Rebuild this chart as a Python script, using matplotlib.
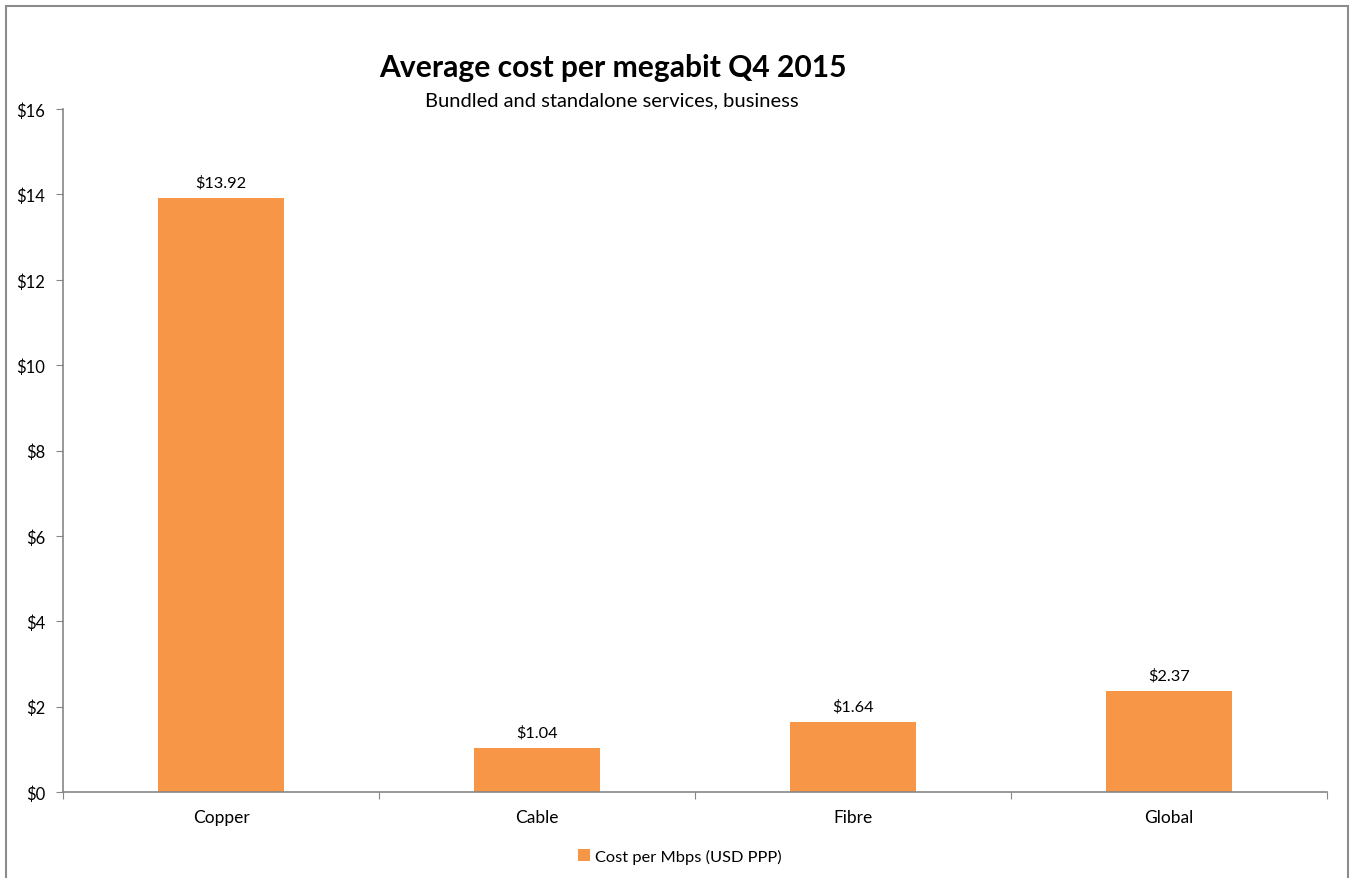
import matplotlib.pyplot as plt
from matplotlib.patches import Rectangle

plt.rcParams['font.family'] = ['Lato', 'DejaVu Sans']

categories = ['Copper', 'Cable', 'Fibre', 'Global']
cost_per_mbps = [13.92, 1.04, 1.64, 2.37]
series_name = 'Cost per Mbps (USD PPP)'
y_ticks = [0, 2, 4, 6, 8, 10, 12, 14, 16]

bar_color = '#F79646'
axis_color = '#868686'

W, H = 1354, 879
fig = plt.figure(figsize=(W / 100, H / 100), dpi=100)

# chart area frame
fig.patches.append(Rectangle((6 / W, -0.1), 1342 / W, 1.1 - 7 / H,
                             transform=fig.transFigure, fill=False,
                             edgecolor='#8C8C8C', linewidth=1.5))

ax = fig.add_axes([63 / W, 1 - 793 / H, (1327 - 63) / W, (793 - 110) / H])

x = list(range(len(categories)))
bars = ax.bar(x, cost_per_mbps, width=0.4, color=bar_color, label=series_name, zorder=2)

for xi, v in zip(x, cost_per_mbps):
    ax.annotate(f'${v:.2f}', (xi, v), textcoords='offset points', xytext=(0, 6),
                ha='center', va='bottom', fontsize=11.8)

ax.set_xlim(-0.5, len(categories) - 0.5)
ax.set_ylim(0, 16)
ax.set_yticks(y_ticks)
ax.set_yticklabels([f'${t}' for t in y_ticks], fontsize=12)

# category labels between boundary ticks
ax.set_xticks([i - 0.5 for i in range(len(categories) + 1)])
ax.set_xticklabels([])
ax.set_xticks(x, minor=True)
ax.set_xticklabels(categories, minor=True, fontsize=12.5)
ax.tick_params(axis='x', which='minor', length=0, pad=12)
ax.tick_params(axis='x', which='major', length=5, color=axis_color, direction='out')
ax.tick_params(axis='y', length=5, color=axis_color, direction='out', pad=8)

for side in ['top', 'right']:
    ax.spines[side].set_visible(False)
for side in ['left', 'bottom']:
    ax.spines[side].set_color(axis_color)
    ax.spines[side].set_linewidth(1.2)

fig.text(613 / W, 1 - 68 / H, 'Average cost per megabit Q4 2015', ha='center', va='center',
         fontsize=21.6, fontweight='bold')
fig.text(612 / W, 1 - 101 / H, 'Bundled and standalone services, business', ha='center',
         va='center', fontsize=14.5)

fig.legend(handles=[bars], labels=[series_name], loc='center', bbox_to_anchor=(680 / W, 1 - 857 / H),
           frameon=False, fontsize=11.8, handlelength=0.7, handleheight=0.7, handletextpad=0.3)

fig.savefig('out.png', dpi=100)
